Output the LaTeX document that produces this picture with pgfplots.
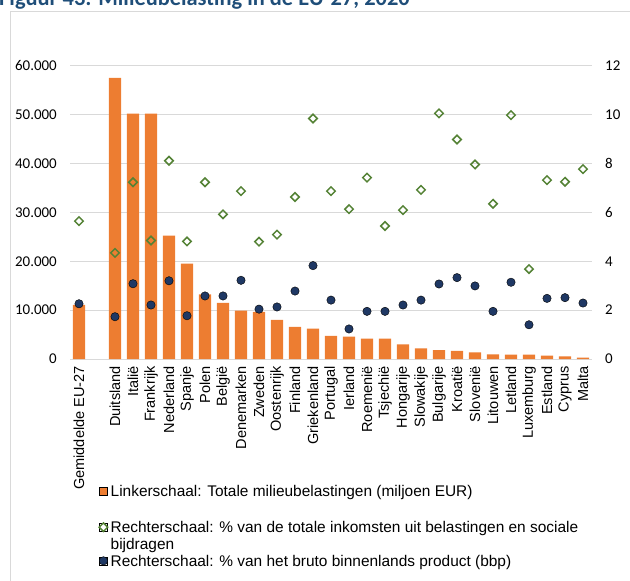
\documentclass[border=0pt]{standalone}
\usepackage{pgfplots}
\pgfplotsset{compat=1.18}
\usepackage{pgfplotstable}
\usepackage{fontspec}
\setmainfont{Liberation Sans}
\newfontfamily\calibri{Carlito}
\definecolor{barorange}{HTML}{ED7D31}
\definecolor{diagreen}{HTML}{548235}
\definecolor{dotblue}{HTML}{1F3864}
\definecolor{gridgray}{HTML}{D9D9D9}
\definecolor{titleblue}{HTML}{1F4E79}

\pgfplotstableread{
x y
0 11050
2 57500
3 50200
4 50200
5 25230
6 19500
7 13230
8 11460
9 9890
10 9620
11 7980
12 6550
13 6210
14 4710
15 4570
16 4160
17 4160
18 3000
19 2180
20 1840
21 1640
22 1360
23 950
24 890
25 890
26 680
27 550
28 270
}\bars

\pgfplotstableread{
x y
0 5.64
2 4.34
3 7.23
4 4.85
5 8.11
6 4.81
7 7.23
8 5.92
9 6.87
10 4.80
11 5.09
12 6.63
13 9.84
14 6.87
15 6.13
16 7.42
17 5.44
18 6.09
19 6.92
20 10.05
21 8.98
22 7.96
23 6.35
24 9.98
25 3.68
26 7.32
27 7.25
28 7.77
}\taxshare

\pgfplotstableread{
x y
0 2.26
2 1.73
3 3.08
4 2.21
5 3.20
6 1.77
7 2.58
8 2.58
9 3.22
10 2.04
11 2.13
12 2.78
13 3.82
14 2.41
15 1.23
16 1.95
17 1.95
18 2.21
19 2.41
20 3.07
21 3.33
22 2.99
23 1.95
24 3.14
25 1.40
26 2.48
27 2.51
28 2.29
}\gdpshare

\begin{document}
\begin{tikzpicture}
\useasboundingbox (0,0) rectangle (630bp,-581bp);
\node[anchor=base west, inner sep=0pt, font=\calibri\bfseries\fontsize{22.5}{22.5}\selectfont, text=titleblue] at (-1bp,-5.5bp) {Figuur 43: Milieubelasting in de EU-27, 2020};
\draw[gridgray, line width=0.9bp] (10.7bp,-600bp) -- (10.7bp,-11.7bp) -- (640bp,-11.7bp);

\begin{axis}[
  at={(70bp,-359bp)}, anchor=south west,
  scale only axis, width=522bp, height=293.3bp,
  xmin=-0.5, xmax=28.5, ymin=0, ymax=60000,
  ytick={0,10000,20000,30000,40000,50000,60000},
  scaled y ticks=false,
  /pgf/number format/1000 sep={.},
  /pgf/number format/assume math mode=true,
  xtick={0,2,3,...,28},
  xticklabels={Gemiddelde EU-27,Duitsland,Italië,Frankrijk,Nederland,Spanje,Polen,België,Denemarken,Zweden,Oostenrijk,Finland,Griekenland,Portugal,Ierland,Roemenië,Tsjechië,Hongarije,Slowakije,Bulgarije,Kroatië,Slovenië,Litouwen,Letland,Luxemburg,Estland,Cyprus,Malta},
  xticklabel style={font=\fontsize{14.6}{14.6}\selectfont, inner sep=0pt, yshift=-7bp, rotate=90, anchor=east},
  yticklabel style={font=\calibri\fontsize{15}{15}\selectfont, inner sep=0pt, anchor=east, xshift=-13bp},
  major tick length=0pt,
  axis line style={draw=none},
  ymajorgrids,
  major grid style={draw=gridgray, line width=0.9bp},
]
\addplot[ybar, bar width=12.3bp, bar shift=0pt, fill=barorange, draw=none] table[x=x, y=y] {\bars};
\end{axis}

\begin{axis}[
  at={(70bp,-359bp)}, anchor=south west,
  scale only axis, width=522bp, height=293.3bp,
  xmin=-0.5, xmax=28.5, ymin=0, ymax=12,
  hide x axis,
  axis y line*=right,
  y axis line style={draw=none},
  ytick={0,2,4,6,8,10,12},
  /pgf/number format/assume math mode=true,
  yticklabel style={font=\calibri\fontsize{15}{15}\selectfont, inner sep=0pt, anchor=west, xshift=13bp},
  major tick length=0pt,
  legend style={at={(0.05556,-0.4211)}, anchor=north west, draw=none, fill=none, inner sep=0pt, row sep=0pt, column sep=3bp, nodes={inner sep=0pt, text depth=, anchor=base west}, font=\fontsize{15.5}{16.5}\selectfont},
  legend image code/.code={\path (0bp,1.5bp) rectangle (8bp,9.5bp); \draw[#1] plot coordinates {(4bp,5.5bp)};},
]
\addlegendimage{only marks, mark=square*, mark size=4bp, mark options={fill=barorange, draw=none}}
\addlegendentry{\rule[-22bp]{0pt}{36bp}Linkerschaal: Totale milieubelastingen (miljoen EUR)}
\addplot[only marks, mark=square, mark size=3bp, mark options={rotate=45, draw=diagreen, fill=white, line width=1.5bp}] table[x=x, y=y] {\taxshare};
\addlegendentry{\parbox[t]{520bp}{\rule{0pt}{14bp}Rechterschaal: \% van de totale inkomsten uit belastingen en sociale\\bijdragen\rule[-3bp]{0pt}{0pt}}}
\addplot[only marks, mark=*, mark size=4.2bp, mark options={fill=dotblue, draw=none}] table[x=x, y=y] {\gdpshare};
\addlegendentry{\rule{0pt}{14bp}Rechterschaal: \% van het bruto binnenlands product (bbp)}
\end{axis}
\end{tikzpicture}
\end{document}
